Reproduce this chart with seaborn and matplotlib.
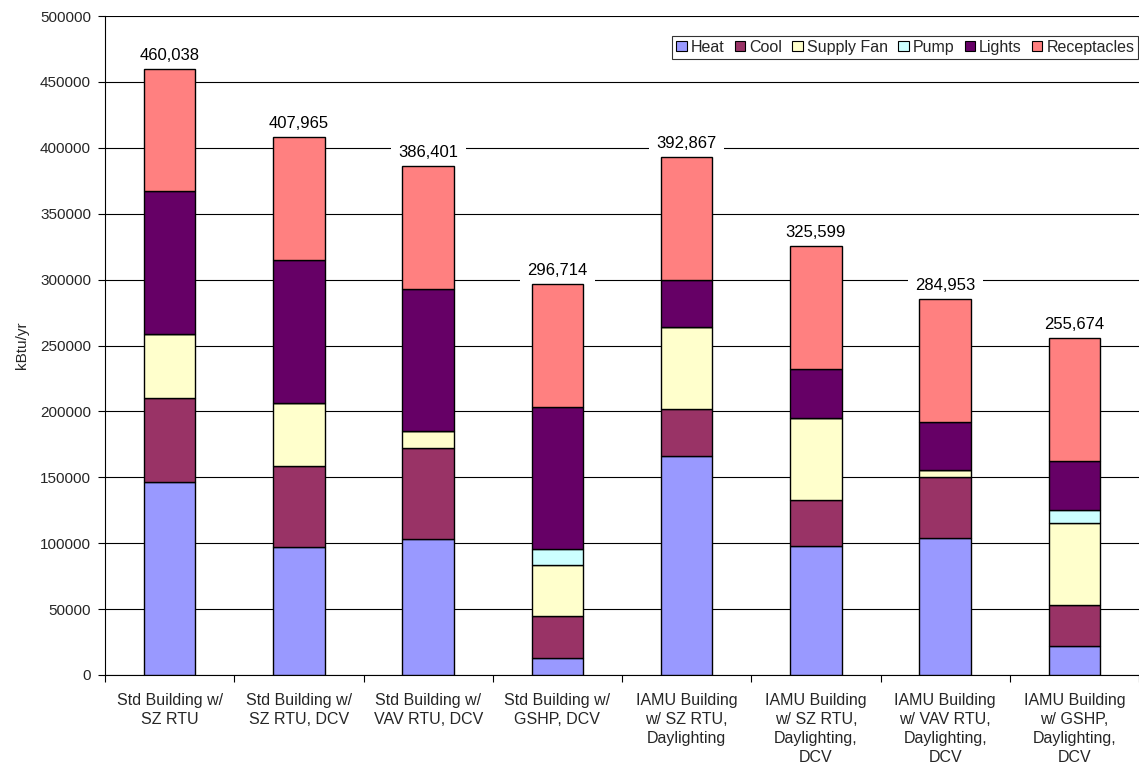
import matplotlib
matplotlib.use("Agg")
import matplotlib.pyplot as plt
import seaborn as sns
import numpy as np
from matplotlib.patches import Patch
from matplotlib.ticker import FixedLocator

categories = [
    "Std Building w/\nSZ RTU",
    "Std Building w/\nSZ RTU, DCV",
    "Std Building w/\nVAV RTU, DCV",
    "Std Building w/\nGSHP, DCV",
    "IAMU Building\nw/ SZ RTU,\nDaylighting",
    "IAMU Building\nw/ SZ RTU,\nDaylighting,\nDCV",
    "IAMU Building\nw/ VAV RTU,\nDaylighting,\nDCV",
    "IAMU Building\nw/ GSHP,\nDaylighting,\nDCV",
]

heat = [146600, 96790, 103540, 13220, 166290, 98200, 104110, 22230]
cool = [63870, 61900, 68660, 31520, 35450, 34330, 46140, 31230]
supply_fan = [48390, 47840, 12940, 38550, 62470, 62180, 5630, 61620]
pump = [0, 0, 0, 12090, 0, 0, 0, 10410]
lights = [108050, 108330, 108050, 108050, 35450, 37700, 35730, 36860]
receptacles = [93128, 93105, 93211, 93284, 93207, 93189, 93343, 93324]

totals = [460038, 407965, 386401, 296714, 392867, 325599, 284953, 255674]

series_names = ["Heat", "Cool", "Supply Fan", "Pump", "Lights", "Receptacles"]
series_values = [heat, cool, supply_fan, pump, lights, receptacles]
series_colors = ["#9999FF", "#993366", "#FFFFCC", "#CCFFFF", "#660066", "#FF8080"]

y_ticks = list(range(0, 500001, 50000))

sns.set_style("white")
plt.rcParams["font.family"] = ["Liberation Sans", "DejaVu Sans"]

fig = plt.figure(figsize=(11.39, 7.67), dpi=100)
ax = fig.add_axes([105 / 1139, 1 - 675 / 767, 1 - 105 / 1139, (675 - 16) / 767])

bottom = np.zeros(len(categories))
for name, vals, col in zip(series_names, series_values, series_colors):
    sns.barplot(x=categories, y=vals, bottom=bottom, color=col, edgecolor="black",
                linewidth=1.0, width=0.4, ax=ax, saturation=1, errorbar=None, zorder=3)
    bottom = bottom + np.array(vals)

for i, t in enumerate(totals):
    ax.annotate(f"{t:,}", xy=(i, t), xytext=(0, 6.5), textcoords="offset points",
                ha="center", va="baseline", fontsize=12, color="black", zorder=2,
                bbox=dict(boxstyle="square,pad=0.45", facecolor="white", edgecolor="none"))

ax.set_xlim(-0.5, len(categories) - 0.5)
ax.set_ylim(0, 500000)
ax.set_yticks(y_ticks)
ax.set_yticklabels([str(v) for v in y_ticks], fontsize=11)
ax.yaxis.grid(True, color="black", linewidth=0.8, zorder=0)
ax.set_axisbelow(True)
ax.tick_params(axis="y", direction="out", length=5, width=0.8, color="black", pad=5, left=True)

ax.set_xticks(range(len(categories)))
ax.set_xticklabels(categories, fontsize=11.5, linespacing=1.32, va="top")
ax.tick_params(axis="x", which="major", length=0, pad=13)
ax.xaxis.set_minor_locator(FixedLocator(np.arange(-0.5, len(categories), 1.0)))
ax.tick_params(axis="x", which="minor", direction="out", length=5, width=0.8,
               color="black", bottom=True)

ax.set_ylabel("kBtu/yr", fontsize=11, labelpad=8)
ax.set_xlabel("")

for s in ["top", "right"]:
    ax.spines[s].set_visible(False)
for s in ["left", "bottom"]:
    ax.spines[s].set_color("black")
    ax.spines[s].set_linewidth(0.8)

handles = [Patch(facecolor=c, edgecolor="black", linewidth=0.8) for c in series_colors]
leg = ax.legend(handles, series_names, ncol=6, loc="upper right",
                bbox_to_anchor=(0.9995, 0.97), frameon=True, fancybox=False,
                fontsize=11.5, handlelength=0.65, handleheight=0.65,
                handletextpad=0.25, columnspacing=0.65, borderpad=0.25,
                borderaxespad=0)
leg.get_frame().set_edgecolor("black")
leg.get_frame().set_linewidth(0.8)
leg.set_zorder(6)

fig.savefig("out.png", dpi=100, facecolor="white")
